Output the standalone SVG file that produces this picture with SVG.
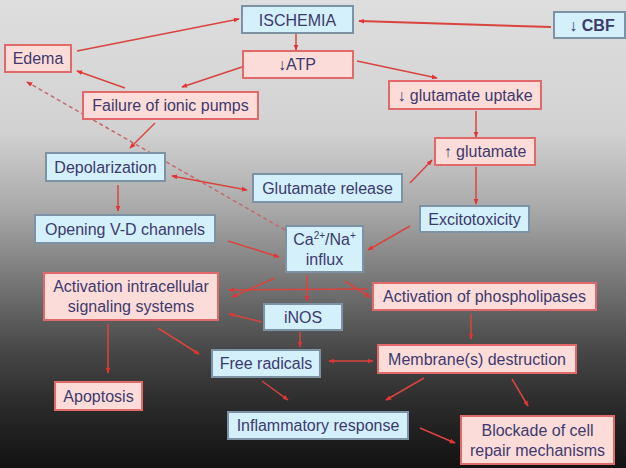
<svg xmlns="http://www.w3.org/2000/svg" width="626" height="468" viewBox="0 0 626 468">
<defs>
<linearGradient id="bg" x1="0" y1="0" x2="0" y2="1">
<stop offset="0" stop-color="#dedede"/>
<stop offset="0.28" stop-color="#d2d2d2"/>
<stop offset="0.45" stop-color="#a8a8a8"/>
<stop offset="0.6" stop-color="#777777"/>
<stop offset="0.75" stop-color="#474747"/>
<stop offset="0.88" stop-color="#282828"/>
<stop offset="1" stop-color="#121212"/>
</linearGradient>
<marker id="ah" viewBox="0 0 8 8" refX="7" refY="4" markerWidth="6" markerHeight="6" markerUnits="userSpaceOnUse" orient="auto-start-reverse">
<path d="M0,0.8 L8,4 L0,7.2 Z" fill="#e23434"/>
</marker>
</defs>
<style>
.b rect{fill:#d3f0fb;stroke:#7d93a5;stroke-width:2}
.p rect{fill:#fcdcd8;stroke:#e06a6a;stroke-width:2}
text{font-family:"Liberation Sans",Arial,sans-serif;font-size:16px;fill:#3d3a6e;text-anchor:middle}
.c line{stroke:#d9443f;stroke-width:1.5;marker-end:url(#ah)}
.c line.d{stroke:#c46a6a;stroke-dasharray:4 3}
</style>
<rect x="0" y="0" width="626" height="468" fill="url(#bg)"/>

<g class="c" id="connectors">
<line x1="551" y1="27" x2="359" y2="21" style="stroke-width:2"/>
<line x1="296" y1="34" x2="296" y2="50"/>
<line x1="77" y1="51" x2="239" y2="19"/>
<line x1="242" y1="67" x2="182" y2="87"/>
<line x1="125" y1="88" x2="77" y2="71"/>
<line x1="357" y1="61" x2="437" y2="78"/>
<line x1="476" y1="111" x2="476" y2="137"/>
<line x1="155" y1="123" x2="130" y2="148"/>
<line class="d" x1="285" y1="230" x2="27" y2="82"/>
<line x1="247" y1="190" x2="172" y2="176" style="marker-start:url(#ah)"/>
<line x1="410" y1="183" x2="432" y2="160"/>
<line x1="476" y1="167" x2="476" y2="204"/>
<line x1="410" y1="226" x2="368" y2="250"/>
<line x1="118" y1="185" x2="118" y2="211"/>
<line x1="228" y1="241" x2="279" y2="257"/>
<line x1="275" y1="278" x2="232" y2="297"/>
<line x1="368" y1="289" x2="229" y2="290"/>
<line x1="345" y1="281" x2="370" y2="297"/>
<line x1="307" y1="275" x2="307" y2="301"/>
<line x1="262" y1="322" x2="229" y2="314"/>
<line x1="300" y1="332" x2="300" y2="347"/>
<line x1="108" y1="324" x2="108" y2="373"/>
<line x1="158" y1="328" x2="199" y2="354"/>
<line x1="329" y1="361" x2="373" y2="361" style="marker-start:url(#ah)"/>
<line x1="471" y1="314" x2="471" y2="339"/>
<line x1="262" y1="381" x2="288" y2="400"/>
<line x1="424" y1="378" x2="386" y2="400"/>
<line x1="512" y1="379" x2="528" y2="406"/>
<line x1="420" y1="428" x2="455" y2="443"/>
</g>

<g id="ischemia" class="b"><rect x="242" y="6" width="111" height="27"/><text x="297.5" y="25.5">ISCHEMIA</text></g>
<g id="cbf" class="b"><rect x="554" y="12" width="71" height="26"/><text x="592" y="31" style="font-weight:bold">↓ CBF</text></g>
<g id="atp" class="p"><rect x="243" y="51" width="110" height="27"/><text x="297" y="70">↓ATP</text></g>
<g id="edema" class="p"><rect x="5" y="45" width="66" height="27"/><text x="38" y="64">Edema</text></g>
<g id="failure" class="p"><rect x="83" y="92" width="175" height="27"/><text x="170.5" y="111">Failure of ionic pumps</text></g>
<g id="glu-uptake" class="p"><rect x="389" y="81" width="152" height="28"/><text x="465" y="100.5">↓ glutamate uptake</text></g>
<g id="glu-up" class="p"><rect x="435" y="138" width="100" height="27"/><text x="485" y="157">↑ glutamate</text></g>
<g id="depol" class="b"><rect x="46" y="153" width="119" height="28"/><text x="105.5" y="172.5">Depolarization</text></g>
<g id="glu-release" class="b"><rect x="253" y="174" width="149" height="28"/><text x="327.5" y="193.5">Glutamate release</text></g>
<g id="excito" class="b"><rect x="420" y="206" width="109" height="26"/><text x="474.5" y="225">Excitotoxicity</text></g>
<g id="vd" class="b"><rect x="35" y="215" width="180" height="28"/><text x="125" y="234.5">Opening V-D channels</text></g>
<g id="ca" class="b"><rect x="286" y="226" width="77" height="46"/><text x="324.5" y="245">Ca<tspan font-size="10" dy="-6">2+</tspan><tspan dy="6">/Na</tspan><tspan font-size="10" dy="-6">+</tspan></text><text x="324.5" y="265">influx</text></g>
<g id="act-intra" class="p"><rect x="44" y="273" width="174" height="47"/><text x="131" y="292">Activation intracellular</text><text x="131" y="312">signaling systems</text></g>
<g id="phospho" class="p"><rect x="373" y="283" width="223" height="27"/><text x="484.5" y="302">Activation of phospholipases</text></g>
<g id="inos" class="b"><rect x="264" y="304" width="78" height="26"/><text x="303" y="323">iNOS</text></g>
<g id="free-rad" class="b"><rect x="212" y="350" width="108" height="27"/><text x="266" y="369">Free radicals</text></g>
<g id="membrane" class="p"><rect x="378" y="345" width="198" height="28"/><text x="477" y="364.5">Membrane(s) destruction</text></g>
<g id="apoptosis" class="p"><rect x="55" y="382" width="87" height="28"/><text x="98.5" y="401.5">Apoptosis</text></g>
<g id="inflam" class="b"><rect x="228" y="412" width="180" height="27"/><text x="318" y="431">Inflammatory response</text></g>
<g id="blockade" class="p"><rect x="461" y="416" width="153" height="48"/><text x="537.5" y="435.5">Blockade of cell</text><text x="537.5" y="455.5">repair mechanisms</text></g>
</svg>
